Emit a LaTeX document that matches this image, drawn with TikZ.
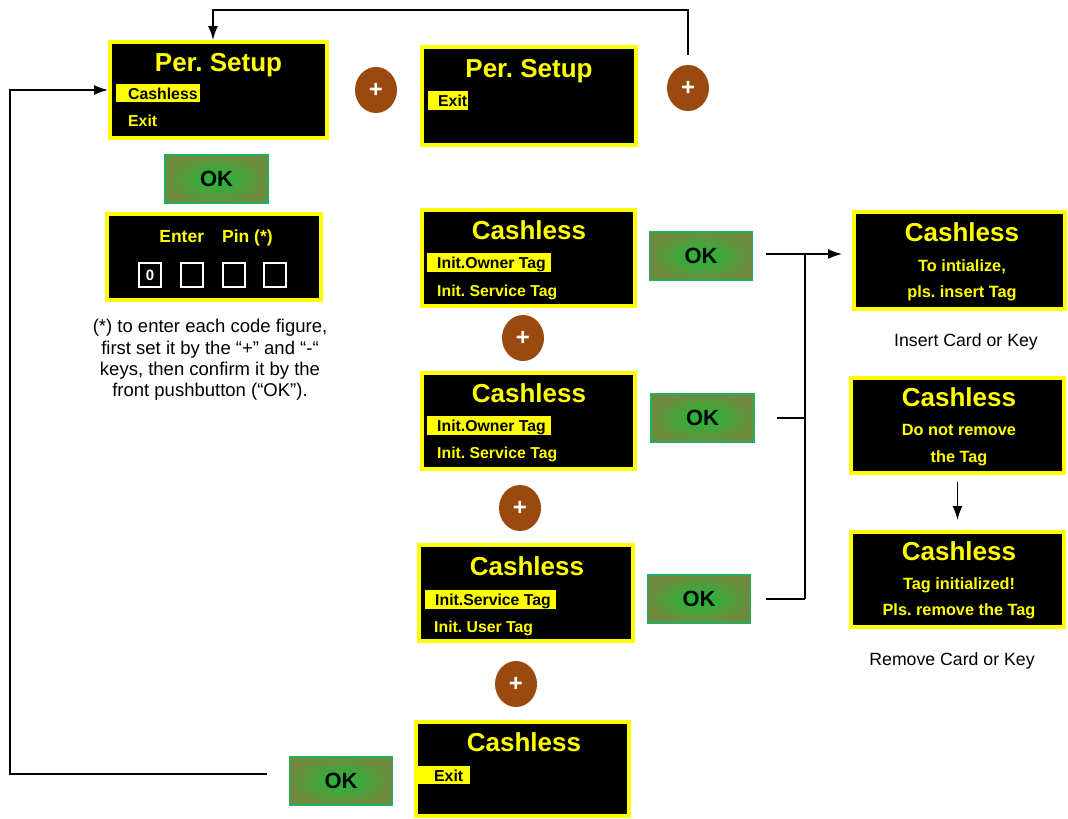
\documentclass[tikz,border=0pt]{standalone}
\usepackage{fontspec}
\setmainfont{Liberation Sans}
\usetikzlibrary{shapes.geometric,arrows.meta}
\definecolor{scrY}{HTML}{FFFF00}
\definecolor{plusB}{HTML}{9A4A0E}
\definecolor{okIn}{HTML}{1EBB38}
\definecolor{okOut}{HTML}{6E8A3E}
\definecolor{okLine}{HTML}{22B060}
\frenchspacing
\begin{document}
\begin{tikzpicture}[x=1pt,y=-1pt,
  scr/.style={rectangle, draw=scrY, line width=4pt, fill=black, inner sep=0pt},
  ttl/.style={text=scrY, font=\bfseries\fontsize{26}{30}\selectfont, inner sep=0pt, anchor=base},
  itm/.style={text=scrY, font=\bfseries\fontsize{15.8}{18}\selectfont, inner sep=0pt, anchor=base west},
  sub/.style={text=scrY, font=\bfseries\fontsize{16.3}{18}\selectfont, inner sep=0pt, anchor=base},
  hl/.style={rectangle, fill=scrY, inner sep=0pt, anchor=north west},
  okbtn/.style={rectangle, draw=okLine, line width=1.5pt, inner color=okIn, outer color=okOut,
     minimum width=103pt, minimum height=48pt, font=\bfseries\fontsize{22}{26}\selectfont},
  plus/.style={ellipse, fill=plusB, minimum width=42pt, minimum height=46pt, inner sep=0pt,
     text=white, font=\bfseries\fontsize{24}{24}\selectfont},
  digit/.style={rectangle, draw=white, line width=2pt, minimum width=22pt, minimum height=24pt,
     inner sep=0pt, text=white, font=\bfseries\fontsize{15}{15}\selectfont},
  lbl/.style={font=\fontsize{17.7}{21}\selectfont, inner sep=0pt},
  line/.style={line width=1.5pt},
  conn/.style={line width=1.5pt, -{Latex[length=14pt,width=10pt]}}]
\useasboundingbox (0,0) rectangle (1068,819);

% ---- screens
\node[scr, minimum width=217pt, minimum height=96pt] (b1) at (218.5,90) {};
\node[scr, minimum width=214pt, minimum height=98pt] (b2) at (529,96) {};
\node[scr, minimum width=214pt, minimum height=86pt] (pin) at (214,257) {};
\node[scr, minimum width=213pt, minimum height=96pt] (bA) at (528.5,258) {};
\node[scr, minimum width=213pt, minimum height=96pt] (bB) at (528.5,421) {};
\node[scr, minimum width=214pt, minimum height=96pt] (bC) at (526,593) {};
\node[scr, minimum width=213pt, minimum height=94pt] (bD) at (522.5,769) {};
\node[scr, minimum width=211pt, minimum height=97pt] (r1) at (959.5,260.5) {};
\node[scr, minimum width=213pt, minimum height=95pt] (r2) at (957.5,425.5) {};
\node[scr, minimum width=213pt, minimum height=95pt] (r3) at (957.5,579.5) {};

% ---- screen 1
\node[ttl] (b1t) at (218.5,71) {Per. Setup};
\node[hl, minimum width=84pt, minimum height=18pt] (b1h) at (116,84) {};
\node[itm, text=black] (b1a) at (128,99) {Cashless};
\node[itm] (b1b) at (128,126) {Exit};

% ---- screen 2
\node[ttl] (b2t) at (529,77) {Per. Setup};
\node[hl, minimum width=40pt, minimum height=19pt] (b2h) at (428,91) {};
\node[itm, text=black] (b2a) at (438,106) {Exit};

% ---- pin screen
\node[sub, font=\bfseries\fontsize{17.5}{20}\selectfont] (pint) at (216,242) {Enter\hspace{18pt}Pin (*)};
\node[digit] (d1) at (150,275) {0};
\node[digit] (d2) at (192,275) {};
\node[digit] (d3) at (234,275) {};
\node[digit] (d4) at (275,275) {};
\node[lbl, align=center, font=\fontsize{18.5}{21.2}\selectfont] (note) at (210,360)
  {(*) to enter each code figure,\\ first set it by the “+” and “-“\\ keys, then confirm it by the\\ front pushbutton (“OK”).};

% ---- screen A
\node[ttl] (bAt) at (529,239) {Cashless};
\node[hl, minimum width=124pt, minimum height=19pt] (bAh) at (427,253) {};
\node[itm, text=black] (bAa) at (437,268) {Init.Owner Tag};
\node[itm] (bAb) at (437,296) {Init. Service Tag};

% ---- screen B
\node[ttl] (bBt) at (529,402) {Cashless};
\node[hl, minimum width=124pt, minimum height=19pt] (bBh) at (427,416) {};
\node[itm, text=black] (bBa) at (437,431) {Init.Owner Tag};
\node[itm] (bBb) at (437,458) {Init. Service Tag};

% ---- screen C
\node[ttl] (bCt) at (527,575) {Cashless};
\node[hl, minimum width=131pt, minimum height=19pt] (bCh) at (425,590) {};
\node[itm, text=black] (bCa) at (435,605) {Init.Service Tag};
\node[itm] (bCb) at (434,632) {Init. User Tag};

% ---- screen D
\node[ttl] (bDt) at (524,751) {Cashless};
\node[hl, minimum width=54pt, minimum height=18pt] (bDh) at (416,766) {};
\node[itm, text=black] (bDa) at (434,781) {Exit};

% ---- right screens
\node[ttl] (r1t) at (962,241) {Cashless};
\node[sub] (r1a) at (962,271.5) {To intialize,};
\node[sub] (r1b) at (962,297.5) {pls. insert Tag};
\node[lbl] (r1l) at (966,342) {Insert Card or Key};

\node[ttl] (r2t) at (959,406) {Cashless};
\node[sub] (r2a) at (959,435.5) {Do not remove};
\node[sub] (r2b) at (959,462.5) {the Tag};

\node[ttl] (r3t) at (959,560) {Cashless};
\node[sub] (r3a) at (959,589.5) {Tag initialized!};
\node[sub] (r3b) at (959,615.5) {Pls. remove the Tag};
\node[lbl] (r3l) at (952,661) {Remove Card or Key};

% ---- buttons
\node[okbtn] (ok1) at (216.5,179) {OK};
\node[okbtn] (okA) at (701,256) {OK};
\node[okbtn] (okB) at (702.5,418) {OK};
\node[okbtn] (okC) at (699,599) {OK};
\node[okbtn] (okD) at (341,781) {OK};

\node[plus] (p1) at (376,90) {+};
\node[plus] (p2) at (688,88) {+};
\node[plus] (pA) at (523,338) {+};
\node[plus] (pB) at (520,508) {+};
\node[plus] (pC) at (516,684) {+};

% ---- connectors
\coordinate (t0) at (213,10);
\draw[conn, shorten <=10pt] (p2.north) |- (t0) -- (t0 |- b1.north);

\coordinate (la) at (267,774);
\coordinate (lb) at (10,774);
\draw[conn] (la) -- (lb) |- (b1.west);

\coordinate (j) at (805,254);
\draw[conn, shorten <=13pt, shorten >=10pt] (okA.east |- j) -- (r1.west |- j);
\draw[line] (j) -- (j |- okC.east);
\draw[line, shorten <=22pt] (okB.east) -- (okB.east -| j);
\draw[line, shorten <=15pt] (okC.east) -- (okC.east -| j);

\draw[conn, shorten <=7pt, shorten >=10pt] (r2.south) -- (r3.north);
\end{tikzpicture}
\end{document}
